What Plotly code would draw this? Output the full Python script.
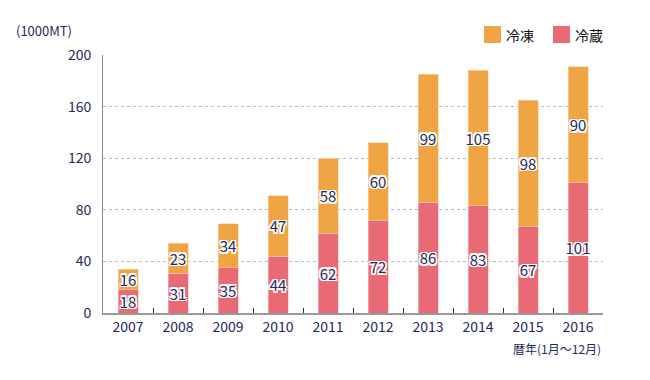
import plotly.graph_objects as go

years = ["2007", "2008", "2009", "2010", "2011", "2012", "2013", "2014", "2015", "2016"]
chilled = [18, 31, 35, 44, 62, 72, 86, 83, 67, 101]   # 冷蔵
frozen = [16, 23, 34, 47, 58, 60, 99, 105, 98, 90]     # 冷凍
y_ticks = [0, 40, 80, 120, 160, 200]

NAVY = "#1f2a5c"
ORANGE = "#f0a544"
RED = "#e96a74"
FONT = "Noto Sans CJK JP"
shadow = ("1.5px 1.5px 0 #fff, -1.5px -1.5px 0 #fff, 1.5px -1.5px 0 #fff, -1.5px 1.5px 0 #fff, "
          "0 1.5px 0 #fff, 0 -1.5px 0 #fff, 1.5px 0 0 #fff, -1.5px 0 0 #fff")

W, H = 642, 372  # page body has an 8px offset


def px(x):
    return (x - 103) / 500


def py(y):
    return (313 - y) / 258


fig = go.Figure()
common = dict(textposition="inside", insidetextanchor="middle", textangle=0,
              constraintext="none", width=0.4)
fig.add_trace(go.Bar(
    x=years, y=chilled, name="冷蔵", marker=dict(color=RED, line=dict(width=0.6, color="#f6c0c4")),
    text=[str(v) for v in chilled],
    textfont=dict(color=NAVY, size=15, family=FONT, shadow=shadow), **common,
))
fig.add_trace(go.Bar(
    x=years, y=frozen, name="冷凍", marker=dict(color=ORANGE, line=dict(width=0.6, color="#f8d6a6")),
    text=[str(v) for v in frozen],
    textfont=dict(color=NAVY, size=15, family=FONT, shadow=shadow), **common,
))

legend_shapes = [
    dict(type="rect", xref="paper", yref="paper", x0=px(484), x1=px(501), y0=py(43), y1=py(26),
         fillcolor=ORANGE, line=dict(width=0), layer="above"),
    dict(type="rect", xref="paper", yref="paper", x0=px(553), x1=px(570), y0=py(43), y1=py(26),
         fillcolor=RED, line=dict(width=0), layer="above"),
]
legend_texts = [
    dict(text="冷凍", x=px(504), y=py(34.5), xref="paper", yref="paper", xanchor="left",
         yanchor="middle", showarrow=False, font=dict(size=14, color="#111")),
    dict(text="冷蔵", x=px(573), y=py(34.5), xref="paper", yref="paper", xanchor="left",
         yanchor="middle", showarrow=False, font=dict(size=14, color="#111")),
]

fig.update_layout(
    barmode="stack",
    width=W, height=H,
    margin=dict(l=95, r=47, t=47, b=67, autoexpand=False),
    plot_bgcolor="white", paper_bgcolor="white",
    font=dict(family=FONT, color=NAVY, size=13),
    showlegend=False,
    shapes=legend_shapes,
    annotations=[
        dict(text="(1000MT)", x=px(14), y=py(30), xref="paper", yref="paper",
             xanchor="left", yanchor="middle", showarrow=False, font=dict(size=13, color=NAVY)),
        dict(text="暦年(1月～12月)", x=1.0, y=py(348), xref="paper", yref="paper",
             xanchor="right", yanchor="middle", showarrow=False, font=dict(size=12, color=NAVY)),
    ] + legend_texts,
)

fig.update_xaxes(
    showgrid=False, showline=True, linecolor="#999", linewidth=2,
    ticks="inside", tickson="boundaries", ticklen=5, tickcolor="#333", tickwidth=1,
    tickfont=dict(size=14, color=NAVY), range=[-0.5, 9.5],
)
fig.update_yaxes(
    range=[0, 200], tickvals=y_ticks, showgrid=True, gridcolor="#bbb", griddash="dot", gridwidth=1,
    showline=True, linecolor="#888", linewidth=1, ticks="", ticklabelstandoff=8,
    tickfont=dict(size=14, color=NAVY), zeroline=False,
)

fig.write_html("out.html")
